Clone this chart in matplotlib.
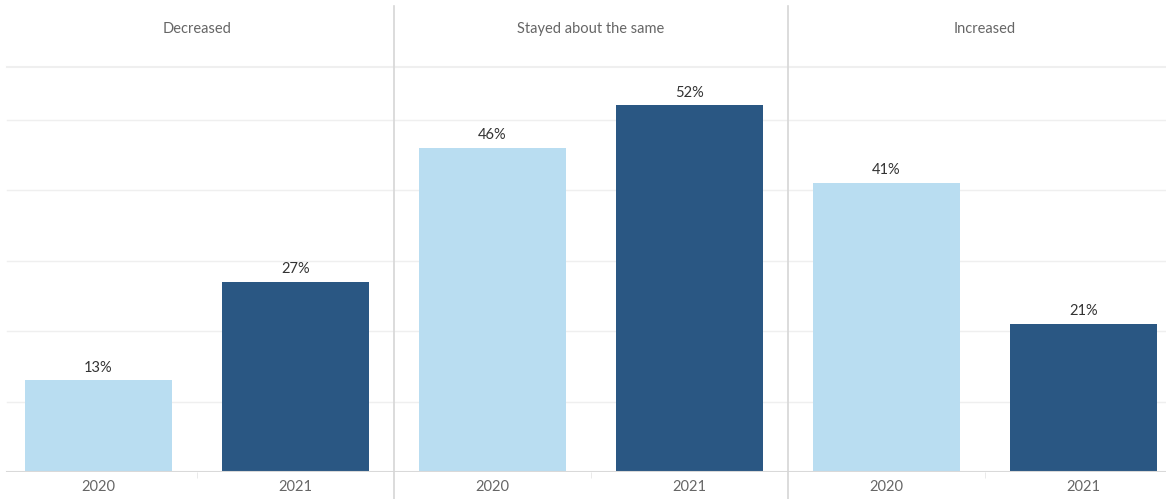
import matplotlib.pyplot as plt
from matplotlib.lines import Line2D

# data
categories = ['Decreased', 'Stayed about the same', 'Increased']
years = ['2020', '2021']
values_2020 = [13, 46, 41]
values_2021 = [27, 52, 21]

light = '#b9ddf1'
dark = '#2a5783'
grid_c = '#efefef'
sep_c = '#d6d6d6'

plt.rcParams['font.family'] = ['Lato', 'DejaVu Sans']

W, H = 1166, 499
fig = plt.figure(figsize=(W / 100, H / 100), dpi=100)

panel_w = 394          # px per panel
top_px, base_px = 67, 472
px_per_pct = 7.05
ymax = (base_px - top_px) / px_per_pct

for i, cat in enumerate(categories):
    ax = fig.add_axes([i * panel_w / W, (H - base_px) / H,
                       panel_w / W, (base_px - top_px) / H])
    vals = [values_2020[i], values_2021[i]]
    x = [0.5, 1.5]
    ax.set_xlim(0, 2)
    ax.set_ylim(0, ymax)

    xmin = 7 / panel_w if i == 0 else 0
    for g in range(10, 60, 10):
        ax.axhline(g, xmin=xmin, color=grid_c, lw=1, zorder=0)
    ax.axhline(ymax, xmin=xmin, color=grid_c, lw=1.5, zorder=0, clip_on=False)
    ax.axhline(0, xmin=xmin, color='#d9d9d9', lw=1.5, zorder=3)

    bars = ax.bar(x, vals, width=0.75, color=[light, dark], zorder=2)
    for b, v in zip(bars, vals):
        ax.annotate(f'{v}%', (b.get_x() + b.get_width() / 2, v),
                    xytext=(0, 4), textcoords='offset points',
                    ha='center', va='bottom', fontsize=10.5, color='#333333')

    ax.set_xticks(x)
    ax.set_xticklabels(years, fontsize=10.5, color='#666666')
    ax.tick_params(axis='x', length=0, pad=6)
    ax.set_xticks([1], minor=True)
    ax.tick_params(axis='x', which='minor', length=4, color='#e6e6e6')
    ax.set_yticks([])
    for s in ax.spines.values():
        s.set_visible(False)
    ax.patch.set_alpha(0)

    # header text
    fig.text((i + 0.5) * panel_w / W, 1 - 29 / H, cat, ha='center', va='center',
             fontsize=10.5, color='#666666')

# panel separators
for i in (1, 2):
    xf = i * panel_w / W
    fig.add_artist(Line2D([xf, xf], [0, 1 - 6 / H], color=sep_c, lw=1.2))

fig.savefig('out.png', dpi=100)
